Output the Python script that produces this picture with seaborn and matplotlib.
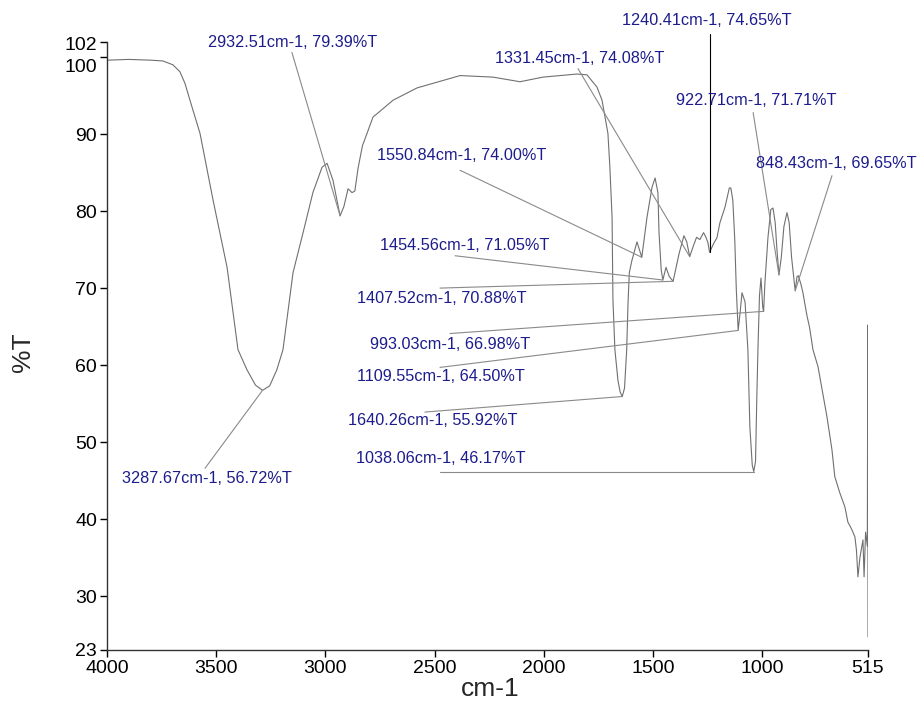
import matplotlib
matplotlib.use('Agg')
import matplotlib.pyplot as plt
import matplotlib.transforms as mtransforms
import numpy as np
import pandas as pd
import seaborn as sns

# 1. Spectrum data
# ---------------------------------------

wavenumber = [
    4000, 3900, 3800, 3744, 3698, 3666, 3643, 3620, 3574, 3514, 3450, 3400,
    3359, 3320, 3287.67, 3255, 3222, 3194, 3148, 3102, 3057, 3015, 2992,
    2965, 2932.51, 2915, 2896, 2878, 2865, 2850, 2830, 2809, 2782, 2690,
    2580, 2383, 2232, 2109, 2003, 1848, 1802, 1756, 1733, 1706, 1697, 1687,
    1683, 1674, 1660, 1650, 1640.26, 1630, 1620, 1614, 1608, 1596, 1573,
    1550.84, 1527, 1504, 1490, 1477, 1472, 1462, 1454.56, 1440, 1425,
    1407.52, 1395, 1380, 1358, 1345, 1331.45, 1317, 1300, 1285, 1268, 1257,
    1248, 1240.41, 1220, 1207, 1193, 1170, 1150, 1143, 1134, 1125, 1118,
    1109.55, 1100, 1092, 1078, 1065, 1056, 1045, 1038.06, 1030, 1024, 1019,
    1012, 1005, 997, 993.03, 987, 973, 960, 950, 940, 932, 922.71, 912, 900,
    886, 876, 865, 848.43, 840, 834, 822, 813, 795, 782, 767, 744, 703, 680,
    667, 644, 621, 607, 590, 575, 568, 561, 552, 538, 533, 526, 518, 516, 515,
]
transmittance = [
    99.6, 99.7, 99.6, 99.5, 99.0, 98.1, 96.6, 94.4, 90.1, 81.4, 72.7, 62.0,
    59.4, 57.4, 56.72, 57.3, 59.4, 62.0, 72.0, 77.2, 82.4, 85.7, 86.2,
    84.0, 79.39, 80.6, 82.9, 82.4, 82.6, 85.6, 88.5, 90.1, 92.2, 94.4,
    96.0, 97.6, 97.4, 96.8, 97.4, 97.8, 97.7, 96.1, 94.4, 90.1, 85.7, 79.2,
    68.5, 62.0, 58.0, 56.5, 55.92, 57.0, 62.0, 68.0, 72.0, 73.6, 76.0,
    74.00, 79.2, 83.1, 84.3, 82.4, 77.2, 72.4, 71.05, 72.7, 71.5,
    70.88, 72.5, 74.5, 76.8, 76.0, 74.08, 75.3, 76.6, 76.3, 77.2, 76.6,
    75.9, 74.65, 75.9, 76.5, 78.5, 80.5, 83.0, 83.0, 81.4, 76.2, 69.8,
    64.50, 67.0, 69.4, 68.2, 62.0, 52.0, 47.0, 46.17, 47.5, 56.0, 62.0,
    69.0, 71.3, 67.5, 66.98, 70.7, 76.6, 80.2, 80.4, 78.5, 75.0, 71.71, 74.0, 78.0,
    79.8, 78.5, 74.0, 69.65, 71.5, 71.6, 70.5, 69.4, 66.5, 64.8, 62.0, 59.8, 53.3, 49.0,
    45.5, 43.4, 41.6, 39.6, 38.7, 37.7, 36.0, 32.5, 35.0, 37.3, 32.5, 38.3, 36.5, 65.2, 24.7,
]

# picked peaks (labels on the chart)
peak_wn = [2932.51, 1331.45, 1240.41, 922.71, 848.43, 1550.84, 1454.56,
           1407.52, 993.03, 1109.55, 1640.26, 1038.06, 3287.67]
peak_t = [79.39, 74.08, 74.65, 71.71, 69.65, 74.00, 71.05,
          70.88, 66.98, 64.50, 55.92, 46.17, 56.72]

x_ticks = [4000, 3500, 3000, 2500, 2000, 1500, 1000, 515]
y_ticks = [23, 30, 40, 50, 60, 70, 80, 90, 100, 102]

df = pd.DataFrame({'wn': wavenumber, 't': transmittance})

# 2. Plot
# -------

sns.set_style('ticks')
plt.rcParams['font.family'] = ['Liberation Sans', 'DejaVu Sans']

fig = plt.figure(figsize=(9.19, 7.02), dpi=100)
ax = fig.add_axes([0.1164, 0.0741, 0.8281, 0.8665])

sns.lineplot(data=df, x='wn', y='t', sort=False, estimator=None,
             color='#707070', lw=0.8, ax=ax)

# label text centre and leader start, in data coords
label_pos = [(3148, 101.9), (1834, 99.8), (1252, 104.7), (1028, 94.3),
             (661, 86.2), (2374, 87.2), (2360, 75.5), (2466, 68.7),
             (2429, 62.7), (2470, 58.5), (2507, 52.8), (2470, 47.9),
             (3542, 45.3)]
leader_start = [(3153, 100.6), (1843, 98.5), (1240.41, 103.0), (1041, 92.8),
                (680, 84.6), (2383, 85.3), (2406, 74.2), (2475, 70.0),
                (2429, 64.1), (2475, 59.7), (2544, 53.9), (2475, 46.17),
                (3551, 46.6)]

for i in range(len(peak_wn)):
    sx, sy = leader_start[i]
    lc = 'black' if i == 2 else '#8a8a8a'
    ax.plot([sx, peak_wn[i]], [sy, peak_t[i]], color=lc, lw=0.8, clip_on=False)
    tx, ty = label_pos[i]
    ax.text(tx, ty, f'{peak_wn[i]:.2f}cm-1, {peak_t[i]:.2f}%T', color='#1c1c8c',
            fontsize=11.7, ha='center', va='center', clip_on=False)

ax.set_xlim(4000, 515)
ax.set_ylim(23, 102)
ax.set_xticks(x_ticks)
ax.set_yticks(y_ticks)
ax.set_xticklabels([str(v) for v in x_ticks])
ax.set_yticklabels([str(v) for v in y_ticks])
ax.tick_params(axis='both', labelsize=14, length=5, width=1, pad=2, colors='black')

# nudge the crowded top labels apart like the reference
for lab in ax.get_yticklabels():
    if lab.get_text() == '100':
        lab.set_transform(lab.get_transform() + mtransforms.ScaledTranslation(0, -8 / 100, fig.dpi_scale_trans))
    elif lab.get_text() == '102':
        lab.set_transform(lab.get_transform() + mtransforms.ScaledTranslation(0, -2 / 100, fig.dpi_scale_trans))

ax.set_xlabel('cm-1', fontsize=19)
ax.set_ylabel('%T', fontsize=19)
ax.xaxis.set_label_coords(0.503, -0.045)
ax.yaxis.set_label_coords(-0.095, 0.49)

sns.despine(ax=ax)
for s in ['left', 'bottom']:
    ax.spines[s].set_linewidth(1.0)
    ax.spines[s].set_color('#333333')

fig.savefig('out.png', dpi=100)
